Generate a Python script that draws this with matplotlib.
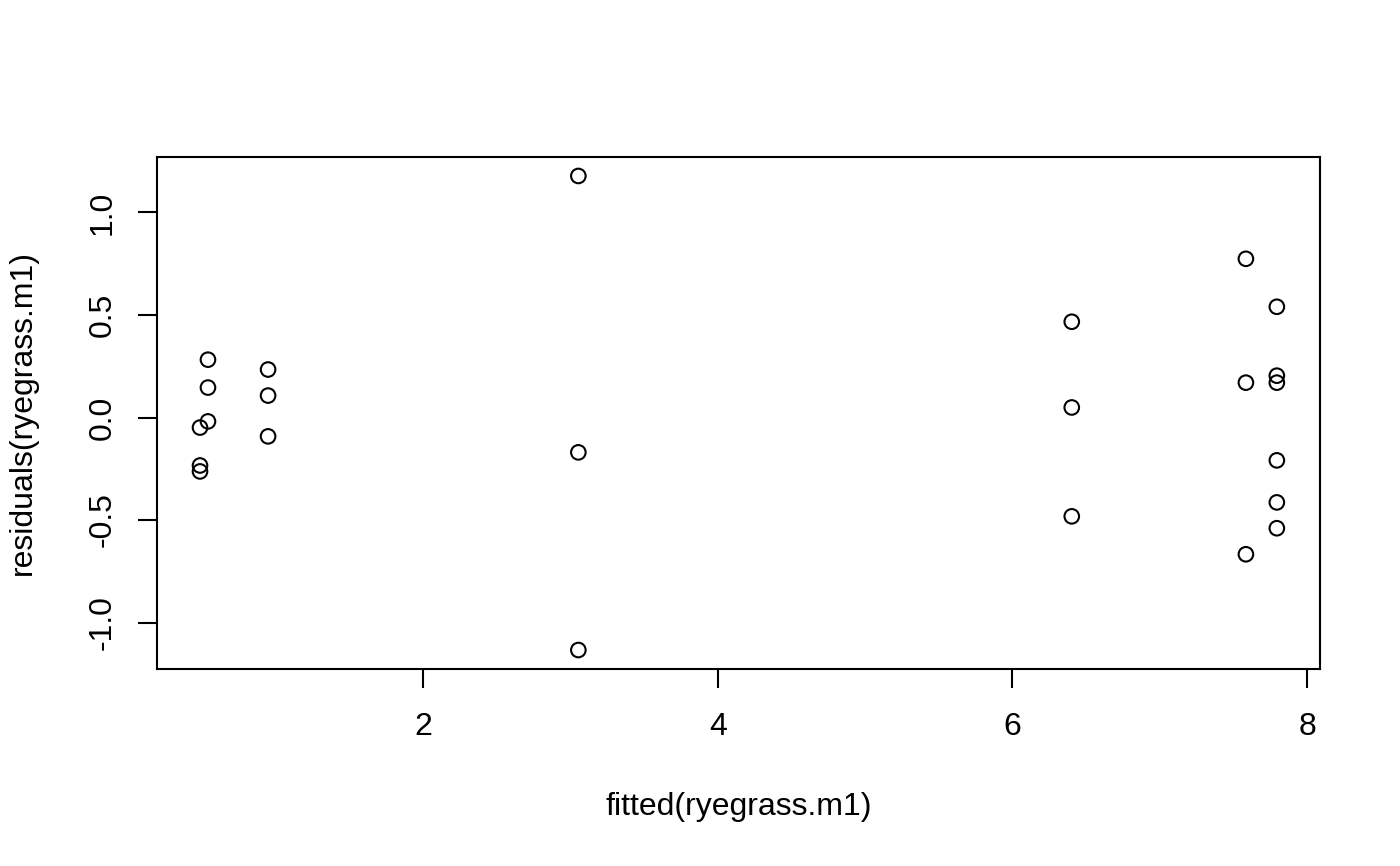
import matplotlib
matplotlib.use("Agg")
import matplotlib.pyplot as plt

plt.rcParams['font.family'] = ['Liberation Sans', 'DejaVu Sans']

# fitted values and residuals
fitted = [0.486, 0.486, 0.486,
          0.54, 0.54, 0.54,
          0.948, 0.948, 0.948,
          3.054, 3.054, 3.054,
          6.403, 6.403, 6.403,
          7.585, 7.585, 7.585,
          7.795, 7.795, 7.795, 7.795, 7.795, 7.795]
resid = [-0.049, -0.234, -0.263,
         0.282, 0.146, -0.019,
         0.234, 0.107, -0.092,
         1.178, -0.170, -1.134,
         0.467, 0.049, -0.482,
         0.774, 0.170, -0.667,
         0.540, 0.204, 0.170, -0.209, -0.414, -0.540]
xticks = [2, 4, 6, 8]
yticks = [-1.0, -0.5, 0.0, 0.5, 1.0]

fig = plt.figure(figsize=(14, 8.66), dpi=100)
ax = fig.add_axes([0.1121, 0.2275, 0.8307, 0.5912])
ax.scatter(fitted, resid, s=110, facecolors='none', edgecolors='black', linewidths=1.5)

# R style 4% padding
x0, x1 = min(fitted), max(fitted)
y0, y1 = min(resid), max(resid)
ax.set_xlim(x0 - 0.04 * (x1 - x0), x1 + 0.04 * (x1 - x0))
ax.set_ylim(y0 - 0.04 * (y1 - y0), y1 + 0.04 * (y1 - y0))

ax.set_xticks(xticks)
ax.set_yticks(yticks)
ax.set_yticklabels(['-1.0', '-0.5', '0.0', '0.5', '1.0'], rotation=90, va='center')
ax.tick_params(axis='both', length=14, width=1.5, labelsize=23)
ax.tick_params(axis='x', pad=17)
ax.tick_params(axis='y', pad=14)
for s in ax.spines.values():
    s.set_linewidth(1.5)

ax.set_xlabel('fitted(ryegrass.m1)', fontsize=23, labelpad=36)
ax.set_ylabel('residuals(ryegrass.m1)', fontsize=23, labelpad=36)

fig.savefig('out.png', dpi=100)
